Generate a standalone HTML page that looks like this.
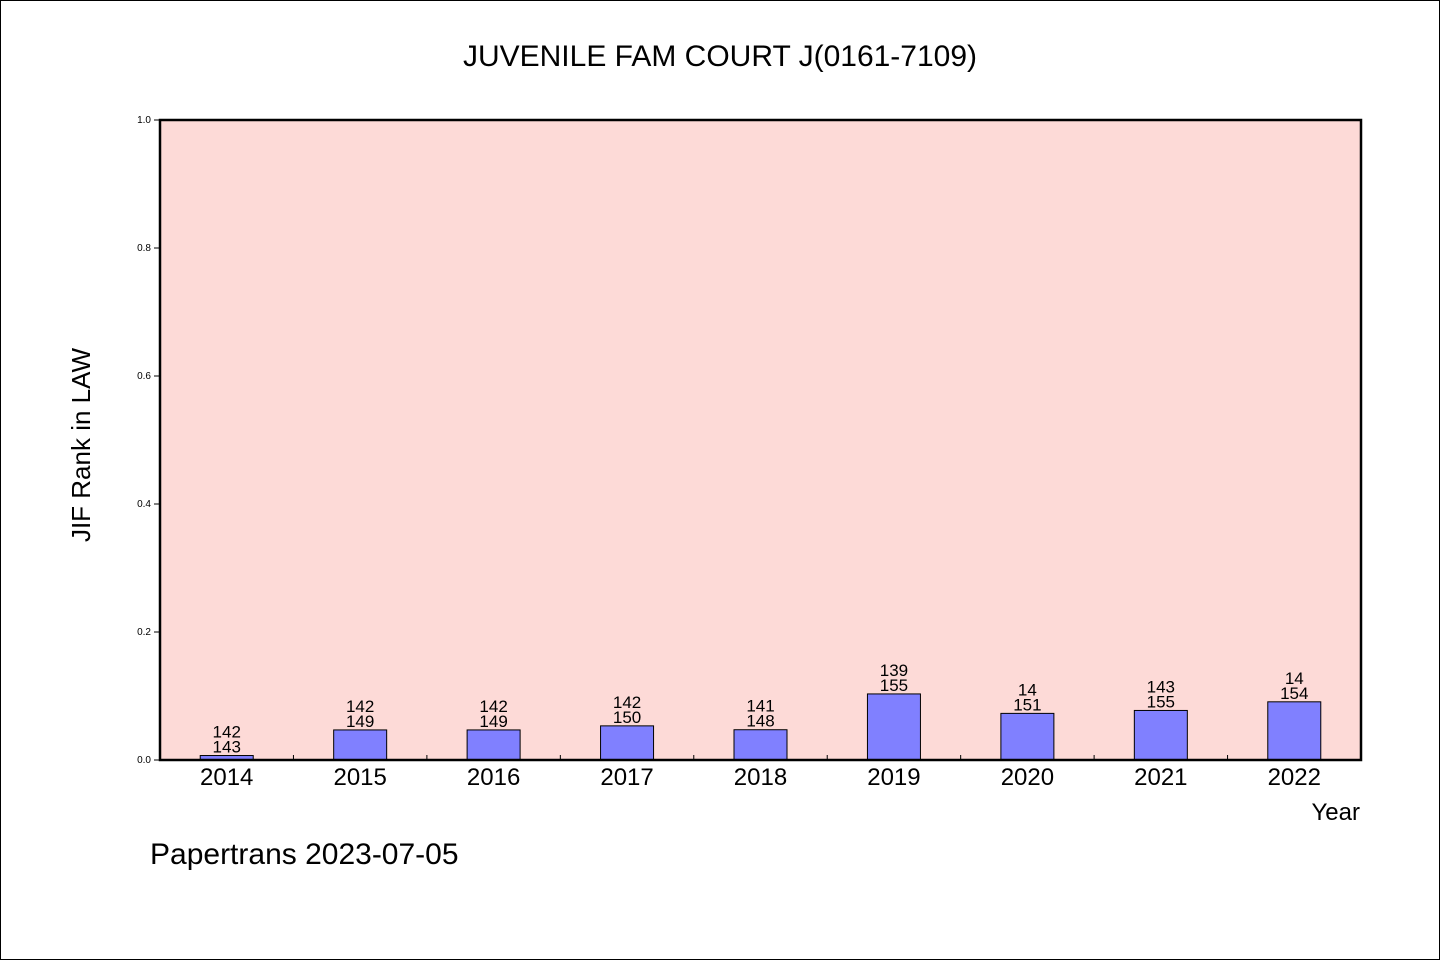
<!DOCTYPE html>
<html><head><meta charset="utf-8"><style>
body{margin:0;background:#fff}
svg text{font-family:"WenQuanYi Zen Hei","Liberation Sans",sans-serif}
</style></head><body>
<svg width="1440" height="960" viewBox="0 0 1440 960">
<rect x="0.5" y="0.5" width="1439" height="959" fill="#fff" stroke="#000"/>
<text x="720" y="66" text-anchor="middle" font-size="30">JUVENILE FAM COURT J(0161-7109)</text>
<rect x="160" y="120" width="1201" height="640" fill="#fddad7"/>
<g id="bars"></g>
<rect x="160" y="120" width="1201" height="640" fill="none" stroke="#000" stroke-width="2.5"/>
<g id="axes"></g>
<text x="90" y="445" transform="rotate(-90 90 445)" text-anchor="middle" font-size="26">JIF Rank in LAW</text>
<text x="1360" y="820" text-anchor="end" font-size="24">Year</text>
<text x="150" y="864" font-size="30">Papertrans 2023-07-05</text>
</svg>
<script>
const years=["2014","2015","2016","2017","2018","2019","2020","2021","2022"];
const ranks=[142,142,142,142,141,139,140,143,140];
const rankLabels=["142","142","142","142","141","139","14","143","14"];
const totals=[143,149,149,150,148,155,151,155,154];
const yTicks=[0,0.2,0.4,0.6,0.8,1.0];
const yTickLabels=["0.0","0.2","0.4","0.6","0.8","1.0"];
const NS="http://www.w3.org/2000/svg";
const X0=160,W=1201,Y0=760,H=640;
const step=W/years.length;
const xc=i=>X0+step*(i+0.5);
const ys=v=>Y0-v*H;
function mk(t,a,p){const e=document.createElementNS(NS,t);for(const k in a)e.setAttribute(k,a[k]);p.appendChild(e);return e;}
const bars=document.getElementById('bars'),axes=document.getElementById('axes');
years.forEach((y,i)=>{
  const v=(totals[i]-ranks[i])/totals[i];
  const r=mk('rect',{x:xc(i)-26.5,y:ys(v),width:53,height:Y0-ys(v),fill:'#8080ff',stroke:'#000','stroke-width':1},bars);
  
  
  const t1=mk('text',{x:xc(i),y:ys(v)-18,'text-anchor':'middle','font-size':17},bars);t1.textContent=rankLabels[i];
  
  
  const t2=mk('text',{x:xc(i),y:ys(v)-3,'text-anchor':'middle','font-size':17},bars);t2.textContent=totals[i];
  
  
  const xl=mk('text',{x:xc(i),y:785,'text-anchor':'middle','font-size':24},axes);xl.textContent=y;
  
  
  if(i>0){const tk=mk('line',{x1:X0+step*i,x2:X0+step*i,y1:755,y2:760,stroke:'#000'},axes);
  
  }
});
yTicks.forEach((v,i)=>{
  const tk=mk('line',{x1:154,x2:160,y1:ys(v),y2:ys(v),stroke:'#000'},axes);
  
  
  const tl=mk('text',{x:151,y:ys(v)+3,'text-anchor':'end','font-size':10},axes);tl.textContent=yTickLabels[i];
  
  
});
</script>
</body></html>
